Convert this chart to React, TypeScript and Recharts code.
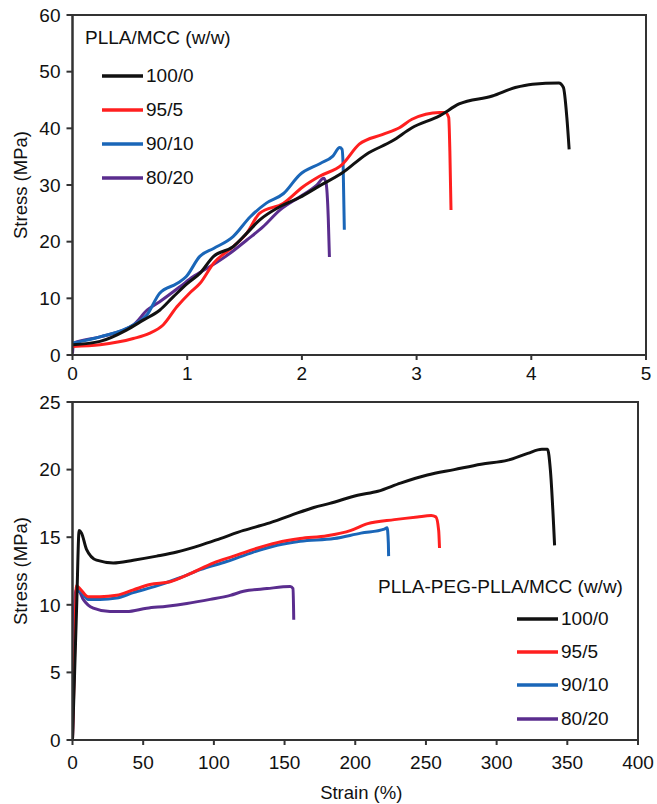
import React from "react";
import {
  LineChart,
  Line,
  XAxis,
  YAxis,
  Legend,
  ReferenceArea,
} from "recharts";

const FONT = "'Liberation Sans', Arial, Helvetica, sans-serif";
const AXIS = "#333333";

const SERIES_NAMES = ["100/0", "95/5", "90/10", "80/20"];
const SERIES_COLORS = ["#111111", "#ff1f1f", "#1a66b8", "#5a2d8e"];

// top panel: PLLA/MCC, strain 0-5 %
const TOP_X_TICKS = [0, 1, 2, 3, 4, 5];
const TOP_Y_TICKS = [0, 10, 20, 30, 40, 50, 60];

const top100x = [0, 0.24, 0.47, 0.62, 0.76, 0.88, 1.0, 1.11, 1.23, 1.4, 1.52, 1.63, 1.81, 1.98, 2.15, 2.35, 2.56, 2.79, 2.96, 3.2, 3.37, 3.66, 3.86, 4.01, 4.24, 4.28, 4.31, 4.33];
const top100y = [1.8, 2.4, 4.4, 6.2, 7.9, 10.3, 12.6, 14.4, 17.4, 19.1, 21.5, 23.8, 26.2, 27.8, 29.8, 32.1, 35.4, 37.8, 40.1, 42.2, 44.3, 45.7, 47.2, 47.8, 48.0, 47.2, 41.9, 36.3];

const top95x = [0, 0.24, 0.53, 0.67, 0.79, 0.91, 1.02, 1.11, 1.23, 1.4, 1.52, 1.63, 1.84, 2.01, 2.15, 2.35, 2.5, 2.7, 2.85, 2.96, 3.2, 3.25, 3.28, 3.29, 3.3];
const top95y = [1.5, 1.8, 2.9, 3.8, 5.3, 8.5, 10.9, 12.6, 16.2, 19.1, 21.5, 25.0, 26.8, 29.7, 31.5, 33.6, 37.2, 38.9, 40.1, 41.6, 42.8, 42.8, 41.9, 36, 25.6];

const top90x = [0, 0.24, 0.53, 0.65, 0.76, 0.91, 0.99, 1.11, 1.23, 1.4, 1.55, 1.69, 1.84, 1.98, 2.16, 2.27, 2.33, 2.35, 2.36, 2.37];
const top90y = [2.1, 3.2, 5.3, 7.1, 10.9, 12.6, 13.8, 17.4, 18.8, 20.9, 24.4, 26.8, 28.5, 31.8, 33.8, 35.1, 36.6, 36.3, 33, 22.1];

const top80x = [0, 0.01, 0.24, 0.53, 0.65, 0.76, 0.94, 1.05, 1.2, 1.37, 1.52, 1.66, 1.81, 1.98, 2.13, 2.19, 2.21, 2.23, 2.24];
const top80y = [0.3, 2.1, 3.2, 5.3, 7.9, 9.4, 12.1, 13.8, 15.6, 17.9, 20.3, 22.6, 25.6, 27.9, 30.0, 31.2, 30.4, 24.1, 17.3];

// bottom panel: PLLA-PEG-PLLA/MCC, strain 0-400 %
const BOT_X_TICKS = [0, 50, 100, 150, 200, 250, 300, 350, 400];
const BOT_Y_TICKS = [0, 5, 10, 15, 20, 25];

const bot100x = [0, 1.5, 3, 4.7, 6.4, 9.9, 17, 28.8, 43, 59.6, 73.8, 90.3, 104.5, 121, 137.6, 154, 170.7, 182, 201.7, 216, 232, 251, 270, 289, 308, 322, 332, 336, 338, 341];
const bot100y = [0, 5, 10.1, 15.5, 15.3, 14.1, 13.3, 13.1, 13.3, 13.6, 13.9, 14.4, 14.9, 15.5, 16.0, 16.6, 17.2, 17.5, 18.1, 18.4, 19.0, 19.6, 20.0, 20.4, 20.7, 21.2, 21.5, 21.5, 20, 14.4];

const bot95x = [0, 1.2, 2.8, 5.2, 11.1, 19.4, 31.2, 43, 54.8, 69, 83.2, 99.8, 114, 128, 144.7, 161, 180, 197, 208.8, 227.7, 244, 253.7, 257, 259, 259.6];
const bot95y = [0, 5, 11.4, 11.2, 10.6, 10.6, 10.7, 11.1, 11.5, 11.7, 12.3, 13.1, 13.6, 14.1, 14.6, 14.9, 15.1, 15.5, 16.0, 16.3, 16.5, 16.6, 16.5, 15.5, 14.2];

const bot90x = [0, 1, 2.4, 5.2, 11.1, 19.4, 31.2, 43, 59.6, 76, 90.3, 109, 128, 144.7, 161, 185, 204, 220.6, 222.5, 223.4, 223.6];
const bot90y = [0, 5, 10.9, 11.0, 10.4, 10.4, 10.5, 10.9, 11.4, 12.0, 12.6, 13.2, 13.9, 14.4, 14.7, 14.9, 15.3, 15.6, 15.7, 14.6, 13.6];

const bot80x = [0, 0.5, 2.4, 4, 7.6, 14.7, 26.5, 38.3, 52.5, 66.7, 80.9, 97.4, 111.6, 121, 137.6, 154, 156, 156.5];
const bot80y = [0, 5, 11.1, 11.1, 10.4, 9.75, 9.5, 9.5, 9.75, 9.9, 10.1, 10.4, 10.7, 11.0, 11.2, 11.35, 11.2, 8.9];

const toPoints = (xs: number[], ys: number[]) => xs.map((x, i) => ({ x, y: ys[i] }));

const topSeries = [
  toPoints(top100x, top100y),
  toPoints(top95x, top95y),
  toPoints(top90x, top90y),
  toPoints(top80x, top80y),
];
const botSeries = [
  toPoints(bot100x, bot100y),
  toPoints(bot95x, bot95y),
  toPoints(bot90x, bot90y),
  toPoints(bot80x, bot80y),
];

type LegendBoxProps = {
  title: string;
  payload?: { value?: string; color?: string }[];
  lineOffset: number;
  firstGap: number;
  rowHeight: number;
};

function LegendBox({ title, payload, lineOffset, firstGap, rowHeight }: LegendBoxProps) {
  const items = payload && payload.length
    ? payload.map((p) => ({ name: String(p.value), color: p.color ?? "#000" }))
    : SERIES_NAMES.map((name, i) => ({ name, color: SERIES_COLORS[i] }));
  return (
    <div style={{ fontFamily: FONT, fontSize: 19, color: "#111", whiteSpace: "nowrap" }}>
      <div style={{ height: 22, lineHeight: "22px" }}>{title}</div>
      <div style={{ marginTop: firstGap }}>
        {items.map((item) => (
          <div key={item.name} style={{ display: "flex", alignItems: "center", height: rowHeight }}>
            <svg width={lineOffset + 41} height={8} style={{ display: "block" }}>
              <line x1={lineOffset} x2={lineOffset + 41} y1={4} y2={4} stroke={item.color} strokeWidth={3.5} />
            </svg>
            <span style={{ marginLeft: 3, lineHeight: "22px" }}>{item.name}</span>
          </div>
        ))}
      </div>
    </div>
  );
}

const tickStyle = { fontSize: 19, fill: "#111", fontFamily: FONT };

export default function App() {
  return (
    <div style={{ position: "absolute", left: 0, top: 0, width: 657, height: 804, background: "#fff", fontFamily: FONT }}>
      <div style={{ position: "absolute", left: 0, top: 0 }}>
        <LineChart width={657} height={385} margin={{ top: 15, right: 11, left: 0, bottom: 0 }}>
          <XAxis
            type="number"
            dataKey="x"
            domain={[0, 5]}
            ticks={TOP_X_TICKS}
            allowDataOverflow
            height={30}
            stroke={AXIS}
            strokeWidth={2}
            tickSize={5}
            tickMargin={7}
            tick={tickStyle}
          />
          <YAxis
            type="number"
            dataKey="y"
            domain={[0, 60]}
            ticks={TOP_Y_TICKS}
            width={72.5}
            stroke={AXIS}
            strokeWidth={2}
            tickSize={6}
            tickMargin={6}
            tick={tickStyle}
            label={{ value: "Stress (MPa)", angle: -90, position: "center", dx: -16, style: { fontSize: 18.5, fill: "#111", fontFamily: FONT } }}
          />
          <ReferenceArea x1={0} x2={5} y1={0} y2={60} fill="none" stroke={AXIS} strokeWidth={2} ifOverflow="visible" />
          {topSeries.map((pts, i) => (
            <Line
              key={SERIES_NAMES[i]}
              data={pts}
              dataKey="y"
              name={SERIES_NAMES[i]}
              type="monotone"
              stroke={SERIES_COLORS[i]}
              strokeWidth={3}
              dot={false}
              isAnimationActive={false}
            />
          )).reverse()}
          <Legend
            layout="vertical"
            align="center"
            verticalAlign="middle"
            wrapperStyle={{ left: 85, top: 27, width: "auto" }}
            content={(props: any) => (
              <LegendBox
                title="PLLA/MCC (w/w)"
                payload={[...(props.payload ?? [])].sort((a: any, b: any) => SERIES_NAMES.indexOf(a.value) - SERIES_NAMES.indexOf(b.value))}
                lineOffset={17}
                firstGap={10}
                rowHeight={34}
              />
            )}
          />
        </LineChart>
      </div>
      <div style={{ position: "absolute", left: 0, top: 385 }}>
        <LineChart width={657} height={419} margin={{ top: 17, right: 19, left: 0, bottom: 0 }}>
          <XAxis
            type="number"
            dataKey="x"
            domain={[0, 400]}
            ticks={BOT_X_TICKS}
            allowDataOverflow
            height={64}
            stroke={AXIS}
            strokeWidth={2}
            tickSize={5}
            tickMargin={11}
            tick={tickStyle}
            label={{ value: "Strain (%)", position: "insideBottom", offset: 5, dx: 6, style: { fontSize: 18.5, fill: "#111", fontFamily: FONT } }}
          />
          <YAxis
            type="number"
            dataKey="y"
            domain={[0, 25]}
            ticks={BOT_Y_TICKS}
            width={72.5}
            stroke={AXIS}
            strokeWidth={2}
            tickSize={6}
            tickMargin={6}
            tick={tickStyle}
            label={{ value: "Stress (MPa)", angle: -90, position: "center", dx: -16, style: { fontSize: 18.5, fill: "#111", fontFamily: FONT } }}
          />
          <ReferenceArea x1={0} x2={400} y1={0} y2={25} fill="none" stroke={AXIS} strokeWidth={2} ifOverflow="visible" />
          {botSeries.map((pts, i) => (
            <Line
              key={SERIES_NAMES[i]}
              data={pts}
              dataKey="y"
              name={SERIES_NAMES[i]}
              type="monotone"
              stroke={SERIES_COLORS[i]}
              strokeWidth={3}
              dot={false}
              isAnimationActive={false}
            />
          )).reverse()}
          <Legend
            layout="vertical"
            align="center"
            verticalAlign="middle"
            wrapperStyle={{ left: 378, top: 191, width: "auto" }}
            content={(props: any) => (
              <LegendBox
                title="PLLA-PEG-PLLA/MCC (w/w)"
                payload={[...(props.payload ?? [])].sort((a: any, b: any) => SERIES_NAMES.indexOf(a.value) - SERIES_NAMES.indexOf(b.value))}
                lineOffset={139}
                firstGap={4}
                rowHeight={33.3}
              />
            )}
          />
        </LineChart>
      </div>
    </div>
  );
}
